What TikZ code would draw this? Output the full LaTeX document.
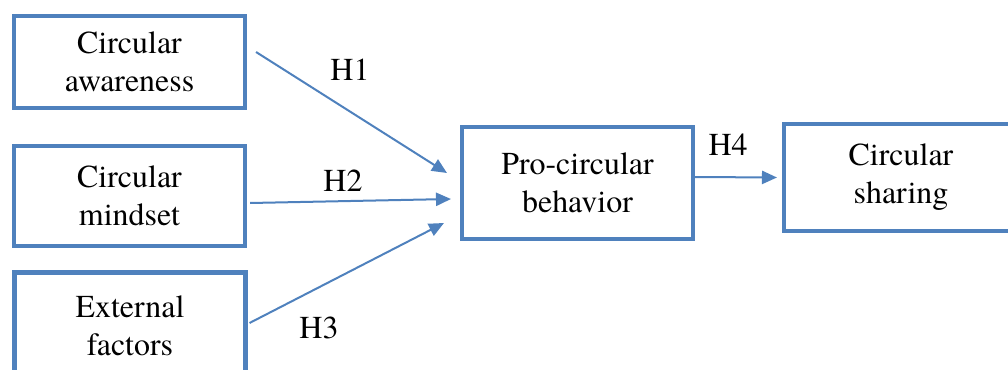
\documentclass[tikz,border=0pt]{standalone}
\usepackage{fontspec}
\setmainfont{texgyretermes}[Extension=.otf, UprightFont=*-regular, BoldFont=*-bold]
\usetikzlibrary{arrows.meta,calc}

\definecolor{boxblue}{HTML}{4F81BD}

\tikzset{
  box/.style={draw=boxblue, line width=4.5*0.025cm, outer sep=0pt, align=center,
    minimum width=5.775cm, font=\fontsize{22.7pt}{27pt}\selectfont},
  link/.style={draw=boxblue, line width=0.05cm,
    -{Triangle[length=0.375cm, width=0.33cm]}},
  hlabel/.style={font=\fontsize{22.7pt}{27pt}\selectfont}
}

\begin{document}
\begin{tikzpicture}[x=0.025cm, y=-0.025cm]
  \useasboundingbox (0,0) rectangle (1008,369);
  \clip (0,0) rectangle (1008,369);

  % Draw the antecedent boxes
  \node[box, minimum height=2.3cm] (aware) at (129.5,62) {Circular\\awareness};
  \node[box, minimum height=2.5cm] (mind) at (129.5,196) {Circular\\mindset};
  \node[box, minimum height=2.65cm] (ext) at (130,325.5) {External\\factors};

  % Draw the mediator and the outcome
  \node[box, minimum height=2.8cm] (pro) at (577.5,183) {Pro-circular\\behavior};
  \node[box, minimum height=2.675cm, minimum width=5.85cm] (share) at (901,177.5) {Circular\\sharing};

  % Draw the hypothesis arrows
  \draw[link] ($(aware.east)+(11,-10)$) -- ($(pro.west)+(-15,-10)$);
  \draw[link] ($(mind.east)+(5,7)$) -- ($(pro.west)+(-11,16)$);
  \draw[link] ($(ext.east)+(4,-2.5)$) -- ($(pro.west)+(-18,40)$);
  \draw[link] ($(pro.east)+(2,-6)$) -- ($(share.west)+(-7,0)$);

  % Hypothesis labels
  \node[hlabel] (h1) at (350,70) {H1};
  \node[hlabel] (h2) at (343,181) {H2};
  \node[hlabel] (h3) at (319,328) {H3};
  \node[hlabel] (h4) at (728,145) {H4};
\end{tikzpicture}
\end{document}
